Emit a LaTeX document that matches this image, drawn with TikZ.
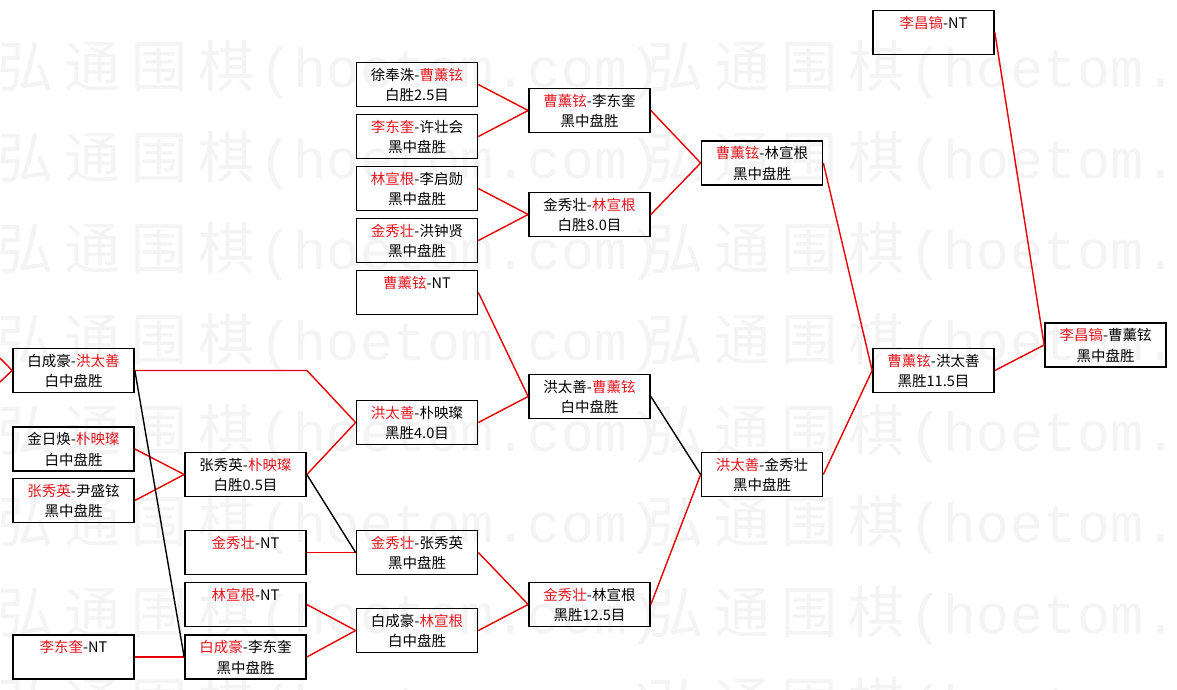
\documentclass[tikz,border=0pt]{standalone}
\usepackage{fontspec}
\setmainfont{Noto Sans CJK SC}
\newfontfamily\wmcjk{Noto Sans CJK SC}
\newfontfamily\wmmono{Liberation Mono}
\definecolor{lnred}{RGB}{232,0,0}
\definecolor{txred}{RGB}{226,24,32}
\definecolor{wmgray}{RGB}{244,244,244}
\newcommand\R[1]{\textcolor{txred}{#1}}
\newcommand\st{\rule[-3.5pt]{0pt}{18.5pt}}
\newcommand\wc[2]{\makebox[#1pt][c]{#2}}
\newcommand\wmtext{{\wmcjk\fontsize{56}{56}\selectfont\wc{67}{弘}\wc{67}{通}\wc{67}{围}\wc{67}{棋}}{\wmmono\fontsize{55}{55}\selectfont\wc{33.5}{(}\wc{33.5}{h}\wc{33.5}{o}\wc{33.5}{e}\wc{33.5}{t}\wc{33.5}{o}\wc{33.5}{m}\wc{33.5}{.}\wc{33.5}{c}\wc{33.5}{o}\wc{33.5}{m}\wc{33.5}{)}}}
\tikzset{
  box/.style={draw=black, line width=1.7pt, minimum width=121pt, minimum height=44pt,
    inner sep=0pt, align=center, text=black, font=\fontsize{14.5}{20.5}\selectfont},
  win/.style={draw=lnred, line width=1.4pt},
  lose/.style={draw=black, line width=1.4pt},
  wm/.style={inner sep=0pt, text=wmgray, anchor=base west}
}
\begin{document}
\begin{tikzpicture}[x=1pt,y=-1pt]
\fill[white] (0,0) rectangle (1177,689);
\useasboundingbox (0,0) rectangle (1177,689);
% watermark
\foreach \k in {0,...,7}{
  \foreach \j in {0,1}{
    \node[wm] (wm-\k-\j) at (-8.5+650*\j, 87+91*\k) {\wmtext};
  }
}
% column 1
\node[box] (A1) at (73.5,370.5) {\st 白成豪-\R{洪太善}\\\st 白中盘胜};
\node[box] (A2) at (73.5,449)   {\st 金日焕-\R{朴映璨}\\\st 白中盘胜};
\node[box] (A3) at (73.5,500.5) {\st \R{张秀英}-尹盛铉\\\st 黑中盘胜};
\node[box] (A4) at (73.5,657)   {\st \R{李东奎}-NT\\\st};
% column 2
\node[box] (B1) at (245.5,474.5) {\st 张秀英-\R{朴映璨}\\\st 白胜0.5目};
\node[box] (B2) at (245.5,552.5) {\st \R{金秀壮}-NT\\\st};
\node[box] (B3) at (245.5,604.5) {\st \R{林宣根}-NT\\\st};
\node[box] (B4) at (245.5,657)   {\st \R{白成豪}-李东奎\\\st 黑中盘胜};
% column 3
\node[box] (C1) at (417,84.5)  {\st 徐奉洙-\R{曹薰铉}\\\st 白胜2.5目};
\node[box] (C2) at (417,136.5) {\st \R{李东奎}-许壮会\\\st 黑中盘胜};
\node[box] (C3) at (417,188.5) {\st \R{林宣根}-李启勋\\\st 黑中盘胜};
\node[box] (C4) at (417,240.5) {\st \R{金秀壮}-洪钟贤\\\st 黑中盘胜};
\node[box] (C5) at (417,292.5) {\st \R{曹薰铉}-NT\\\st};
\node[box] (C6) at (417,422.5) {\st \R{洪太善}-朴映璨\\\st 黑胜4.0目};
\node[box] (C7) at (417,552.5) {\st \R{金秀壮}-张秀英\\\st 黑中盘胜};
\node[box] (C8) at (417,630.5) {\st 白成豪-\R{林宣根}\\\st 白中盘胜};
% column 4
\node[box] (D1) at (589.5,110.5) {\st \R{曹薰铉}-李东奎\\\st 黑中盘胜};
\node[box] (D2) at (589.5,214.5) {\st 金秀壮-\R{林宣根}\\\st 白胜8.0目};
\node[box] (D3) at (589.5,396.5) {\st 洪太善-\R{曹薰铉}\\\st 白中盘胜};
\node[box] (D4) at (589.5,604.5) {\st \R{金秀壮}-林宣根\\\st 黑胜12.5目};
% column 5
\node[box] (E1) at (762,163)   {\st \R{曹薰铉}-林宣根\\\st 黑中盘胜};
\node[box] (E2) at (762,474.5) {\st \R{洪太善}-金秀壮\\\st 黑中盘胜};
% column 6
\node[box] (F0) at (933.5,32.5)  {\st \R{李昌镐}-NT\\\st};
\node[box] (F1) at (933.5,370.5) {\st \R{曹薰铉}-洪太善\\\st 黑胜11.5目};
% column 7
\node[box] (G1) at (1105.5,345) {\st \R{李昌镐}-曹薰铉\\\st 黑中盘胜};
% free ends and bend
\coordinate (inA) at (0,358);
\coordinate (inB) at (0,382);
\coordinate (bend) at (307,370.5);
% connectors
\draw[win] (inA) -- (A1.west) -- (inB);
\draw[win] (A2.east) -- (B1.west);
\draw[win] (A3.east) -- (B1.west);
\draw[win] (A1.east) -- (bend) -- (C6.west);
\draw[win] (B1.east) -- (C6.west);
\draw[win] (A4.east) -- (B4.west);
\draw[win] (B2.east) -- (C7.west);
\draw[win] (B3.east) -- (C8.west);
\draw[win] (B4.east) -- (C8.west);
\draw[win] (C1.east) -- (D1.west);
\draw[win] (C2.east) -- (D1.west);
\draw[win] (C3.east) -- (D2.west);
\draw[win] (C4.east) -- (D2.west);
\draw[win] (C5.east) -- (D3.west);
\draw[win] (C6.east) -- (D3.west);
\draw[win] (C7.east) -- (D4.west);
\draw[win] (C8.east) -- (D4.west);
\draw[win] (D1.east) -- (E1.west);
\draw[win] (D2.east) -- (E1.west);
\draw[win] (D4.east) -- (E2.west);
\draw[win] (E1.east) -- (F1.west);
\draw[win] (E2.east) -- (F1.west);
\draw[win] (F0.east) -- (G1.west);
\draw[win] (F1.east) -- (G1.west);
\draw[lose] (A1.east) -- (B4.west);
\draw[lose] (B1.east) -- (C7.west);
\draw[lose] (D3.east) -- (E2.west);
\end{tikzpicture}
\end{document}
